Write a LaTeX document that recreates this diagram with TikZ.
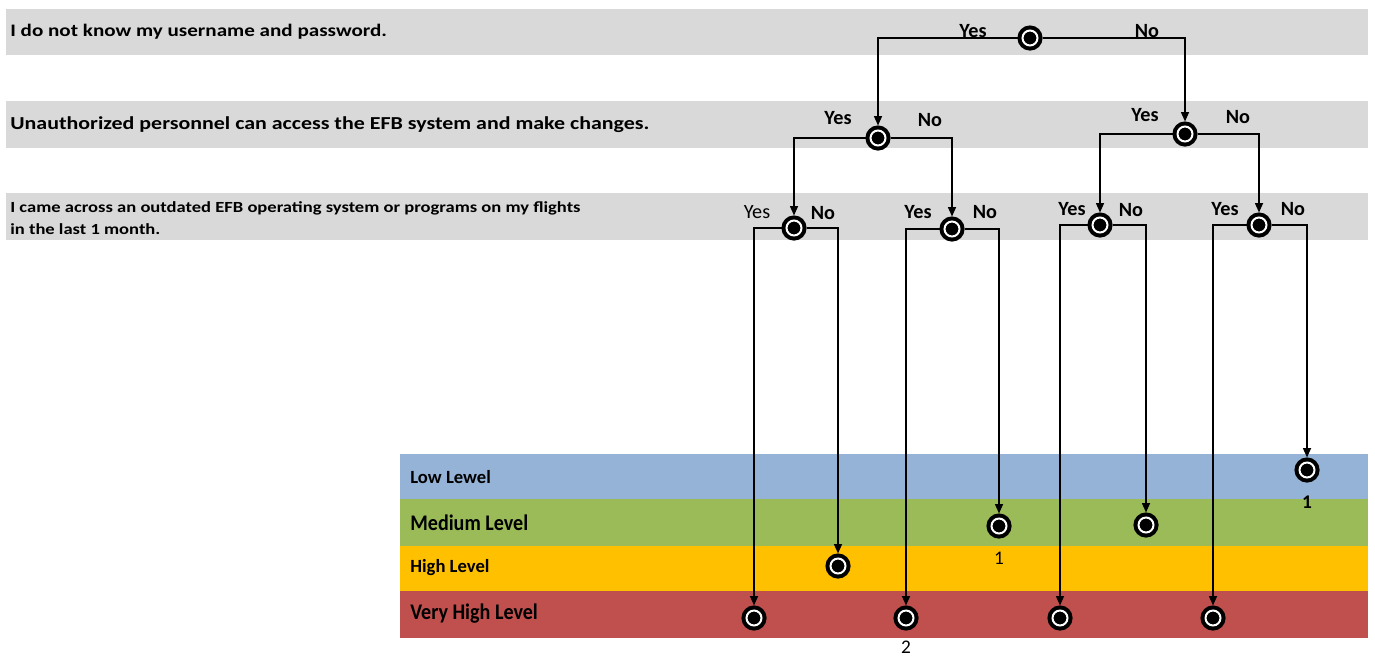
\documentclass[tikz,border=0pt]{standalone}
\usepackage{fontspec}
\setmainfont{Carlito}
\newfontfamily\widefont[FakeStretch=1.2]{Carlito}
\newfontfamily\narrowfont[FakeStretch=0.9]{Carlito}
\usetikzlibrary{arrows.meta,positioning}
\definecolor{bandgray}{HTML}{D9D9D9}
\definecolor{lowblue}{HTML}{95B3D7}
\definecolor{medgreen}{HTML}{9BBB59}
\definecolor{highorange}{HTML}{FFC000}
\definecolor{vhighred}{HTML}{C0504D}
\tikzset{
	>={Triangle[length=0.19cm,width=0.16cm]},
	choice/.style={circle, fill=black, draw=black, double=white, double distance=0.04cm,
		line width=0.08cm, minimum size=0.3cm, inner sep=0pt, outer sep=0.1cm},
	branch/.style={->, line width=0.9pt},
	answer/.style={font=\fontsize{11.5}{13}\selectfont\bfseries, inner sep=0pt},
	question/.style={anchor=west, font=\widefont\fontsize{10}{12}\selectfont\bfseries, inner sep=0pt},
	levelbig/.style={anchor=west, font=\narrowfont\fontsize{12.7}{15}\selectfont\bfseries, inner sep=0pt},
	levelsmall/.style={anchor=west, font=\fontsize{10.6}{13}\selectfont\bfseries, inner sep=0pt},
	score/.style={font=\fontsize{11}{13}\selectfont, inner sep=0pt},
}

\begin{document}
\begin{tikzpicture}[x=0.02cm, y=-0.02cm]
	\useasboundingbox (0,0) rectangle (1375,657);

	% question bands
	\fill[bandgray] (6,9) rectangle (1368,55);
	\fill[bandgray] (6,101) rectangle (1368,148);
	\fill[bandgray] (6,193) rectangle (1368,240);
	\node[question] (q1) at (10,32) {I do not know my username and password.};
	\node[question, font=\widefont\fontsize{10.4}{12}\selectfont\bfseries] (q2) at (10,125)
		{Unauthorized personnel can access the EFB system and make changes.};
	\node[question, font=\widefont\fontsize{8.8}{12.4}\selectfont\bfseries, align=left] (q3) at (10,218)
		{I came across an outdated EFB operating system or programs on my flights\\in the last 1 month.};

	% level bands
	\fill[lowblue] (400,454) rectangle (1368,499);
	\fill[medgreen] (400,499) rectangle (1368,546);
	\fill[highorange] (400,546) rectangle (1368,591);
	\fill[vhighred] (400,591) rectangle (1368,638);
	\node[levelsmall] (low) at (410,477) {Low Lewel};
	\node[levelbig] (med) at (410,523) {Medium Level};
	\node[levelsmall] (high) at (410,568) {High Level};
	\node[levelbig] (vhigh) at (410,614) {Very High Level};

	% decision points
	\node[choice] (d1) at (1030,38) {};
	\node[choice] (d2a) at (878,138) {};
	\node[choice] (d2b) at (1185,134) {};
	\node[choice] (d3a) at (794,228) {};
	\node[choice] (d3b) at (952,229) {};
	\node[choice] (d3c) at (1100,225) {};
	\node[choice] (d3d) at (1259,225) {};

	% results
	\node[choice] (r1) at (754,618) {};
	\node[choice] (r2) at (838,566) {};
	\node[choice] (r3) at (906,618) {};
	\node[choice] (r4) at (999,526) {};
	\node[choice] (r5) at (1060,618) {};
	\node[choice] (r6) at (1146,525) {};
	\node[choice] (r7) at (1213,618) {};
	\node[choice] (r8) at (1307,470) {};

	\draw[branch] (d1) -| (d2a);
	\draw[branch] (d1) -| (d2b);
	\draw[branch] (d2a) -| (d3a);
	\draw[branch] (d2a) -| (d3b);
	\draw[branch] (d2b) -| (d3c);
	\draw[branch] (d2b) -| (d3d);
	\draw[branch] (d3a) -| (r1);
	\draw[branch] (d3a) -| (r2);
	\draw[branch] (d3b) -| (r3);
	\draw[branch] (d3b) -| (r4);
	\draw[branch] (d3c) -| (r5);
	\draw[branch] (d3c) -| (r6);
	\draw[branch] (d3d) -| (r7);
	\draw[branch] (d3d) -| (r8);

	% answers
	\node[answer] (y1) at (973,31) {Yes};
	\node[answer] (n1) at (1147,31) {No};
	\node[answer] (y2a) at (838,118) {Yes};
	\node[answer] (n2a) at (930,120) {No};
	\node[answer] (y2b) at (1145,115) {Yes};
	\node[answer] (n2b) at (1238,117) {No};
	\node[answer, font=\fontsize{11.5}{13}\selectfont] (y3a) at (757,212) {Yes};
	\node[answer] (n3a) at (823,213) {No};
	\node[answer] (y3b) at (918,212) {Yes};
	\node[answer] (n3b) at (985,212) {No};
	\node[answer] (y3c) at (1072,209) {Yes};
	\node[answer] (n3c) at (1131,210) {No};
	\node[answer] (y3d) at (1225,209) {Yes};
	\node[answer] (n3d) at (1293,209) {No};

	% counts
	\node[score] (c4) at (999,558) {1};
	\node[score] (c3) at (906,647) {2};
	\node[score, font=\fontsize{11}{13}\selectfont\bfseries] (c8) at (1307,502) {1};
\end{tikzpicture}
\end{document}
